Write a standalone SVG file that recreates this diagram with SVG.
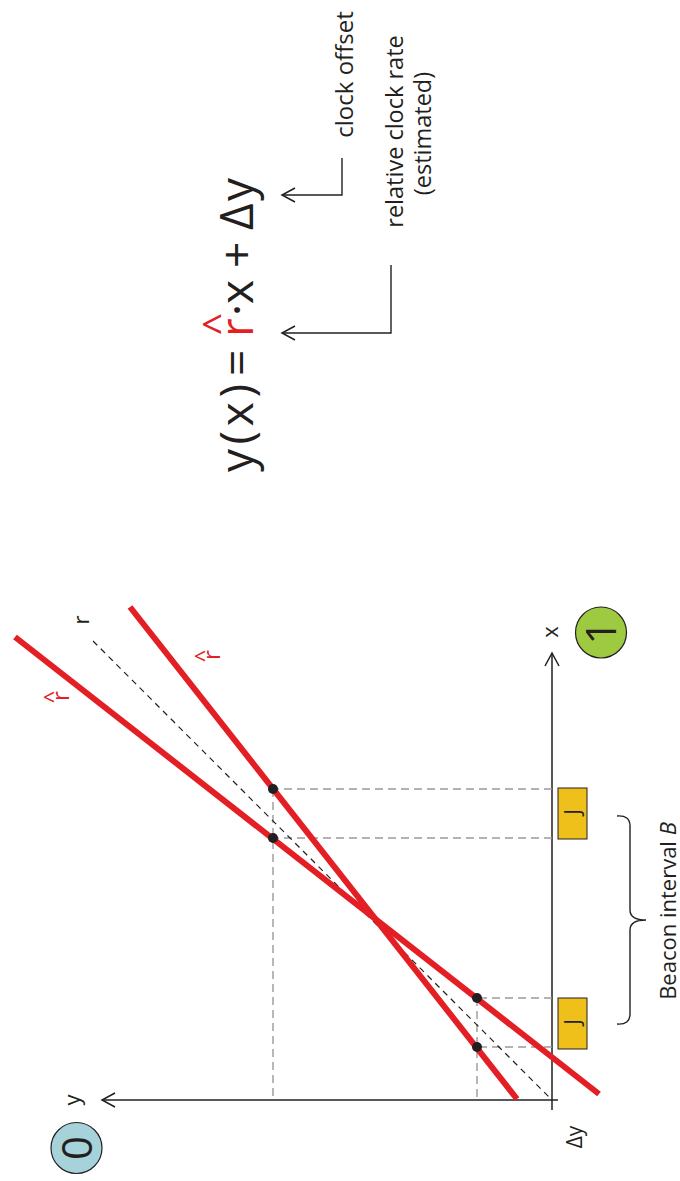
<svg xmlns="http://www.w3.org/2000/svg" width="680" height="1181" viewBox="0 0 680 1181">
<defs>
<style>
.t{font-family:"Open Sans","Liberation Sans",sans-serif;fill:#231f20}
.red{fill:#e31e24}
.ax{stroke:#231f20;stroke-width:1.5;fill:none}
.gd{stroke:#9a9a9a;stroke-width:1.4;stroke-dasharray:8 5;fill:none}
.bd{stroke:#231f20;stroke-width:1.2;stroke-dasharray:6 5;fill:none}
.rl{stroke:#e31e24;stroke-width:6;fill:none}
.dot{fill:#231f20}
.jb{fill:#f0c01a;stroke:#231f20;stroke-width:1}
.cn{stroke:#231f20;stroke-width:1.4;fill:none}
</style>
<marker id="chev" markerUnits="userSpaceOnUse" markerWidth="20" markerHeight="20" refX="0" refY="0" viewBox="-15 -10 20 20" orient="auto" overflow="visible">
<path d="M-13,-7 L0,0 L-13,7" fill="none" stroke="#231f20" stroke-width="1.5"/>
</marker>
</defs>
<rect width="680" height="1181" fill="#ffffff"/>

<g id="axes">
<line class="ax" x1="552" y1="1110" x2="552" y2="653" marker-end="url(#chev)"/>
<line class="ax" x1="558" y1="1100" x2="102" y2="1100" marker-end="url(#chev)"/>
<text class="t" font-size="22" text-anchor="middle" transform="translate(558,632) rotate(-90)">x</text>
<text class="t" font-size="22" text-anchor="middle" transform="translate(80,1100) rotate(-90)">y</text>
<text class="t" font-size="21" text-anchor="middle" transform="translate(582,1137) rotate(-90)">Δy</text>
</g>

<g id="guides">
<line class="gd" x1="552" y1="789" x2="273" y2="789"/>
<line class="gd" x1="552" y1="838" x2="273" y2="838"/>
<line class="gd" x1="273" y1="789" x2="273" y2="1100"/>
<line class="gd" x1="552" y1="998" x2="477" y2="998"/>
<line class="gd" x1="552" y1="1047" x2="477" y2="1047"/>
<line class="gd" x1="477" y1="998" x2="477" y2="1100"/>
</g>

<g id="line-r">
<line class="bd" x1="93" y1="641" x2="552" y2="1100"/>
<text class="t" font-size="22" text-anchor="middle" transform="translate(89,620) rotate(-90)">r</text>
</g>

<g id="line-rhat-1">
<line class="rl" x1="15" y1="637" x2="599" y2="1094"/>
<text class="t red" font-size="24" text-anchor="middle" transform="translate(69,696) rotate(-90)">r</text>
<text class="t red" font-size="22" text-anchor="middle" transform="translate(60,697) rotate(-90)">^</text>
</g>

<g id="line-rhat-2">
<line class="rl" x1="130" y1="607" x2="517" y2="1099"/>
<text class="t red" font-size="24" text-anchor="middle" transform="translate(220,655) rotate(-90)">r</text>
<text class="t red" font-size="22" text-anchor="middle" transform="translate(211,656) rotate(-90)">^</text>
</g>

<g id="points">
<circle class="dot" cx="273" cy="789" r="5"/>
<circle class="dot" cx="273" cy="838" r="5"/>
<circle class="dot" cx="477" cy="998" r="5"/>
<circle class="dot" cx="477" cy="1047" r="5"/>
</g>

<g id="beacon-1">
<rect class="jb" x="558" y="788" width="29" height="51"/>
<text class="t" font-size="21" text-anchor="middle" transform="translate(580,812) rotate(-90)">J</text>
</g>
<g id="beacon-2">
<rect class="jb" x="558" y="998" width="29" height="51"/>
<text class="t" font-size="21" text-anchor="middle" transform="translate(580,1022) rotate(-90)">J</text>
</g>

<g id="brace">
<path class="cn" d="M617,816 Q630,815 630,826 L630,910 Q630,920 646,920 M646,920 Q630,920 630,930 L630,1014 Q630,1025 617,1024"/>
<text class="t" font-size="22" text-anchor="middle" transform="translate(676,911) rotate(-90)">Beacon interval <tspan font-style="italic">B</tspan></text>
</g>

<g id="badge-0">
<circle cx="76.5" cy="1148" r="25.5" fill="#a6d3da" stroke="#231f20" stroke-width="1.2"/>
<text class="t" font-size="42" text-anchor="middle" transform="translate(92,1148) rotate(-90)">0</text>
</g>
<g id="badge-1">
<circle cx="601" cy="632.5" r="25.5" fill="#9dca41" stroke="#231f20" stroke-width="1.2"/>
<text class="t" font-size="42" text-anchor="middle" transform="translate(616,632.5) rotate(-90)">1</text>
</g>

<g id="equation" transform="translate(253,472) rotate(-90)">
<text class="t" font-size="46" x="0" y="0" textLength="88" lengthAdjust="spacing">y(x)</text>
<text class="t" font-size="46" x="96" y="0">=</text>
<text class="t red" font-size="46" x="135" y="0">r</text>
<text class="t red" font-size="40" x="148" y="-21" text-anchor="middle">^</text>
<text class="t" font-size="46" x="156" y="0">·</text>
<text class="t" font-size="46" x="168" y="0">x</text>
<text class="t" font-size="46" x="204" y="0">+</text>
<text class="t" font-size="46" x="242" y="0">Δ</text>
<text class="t" font-size="46" x="271" y="0">y</text>
</g>

<g id="label-offset">
<text class="t" font-size="24" text-anchor="middle" transform="translate(352.5,74.5) rotate(-90)">clock offset</text>
</g>
<g id="label-rate">
<text class="t" font-size="23.5" text-anchor="middle" transform="translate(402.5,131.5) rotate(-90)">relative clock rate</text>
<text class="t" font-size="23.5" text-anchor="middle" transform="translate(430.5,133.5) rotate(-90)">(estimated)</text>
</g>

<g id="connectors">
<polyline class="cn" points="342,158 342,195 282,195" marker-end="url(#chev)"/>
<polyline class="cn" points="391,265 391,333 282,333" marker-end="url(#chev)"/>
</g>
</svg>
